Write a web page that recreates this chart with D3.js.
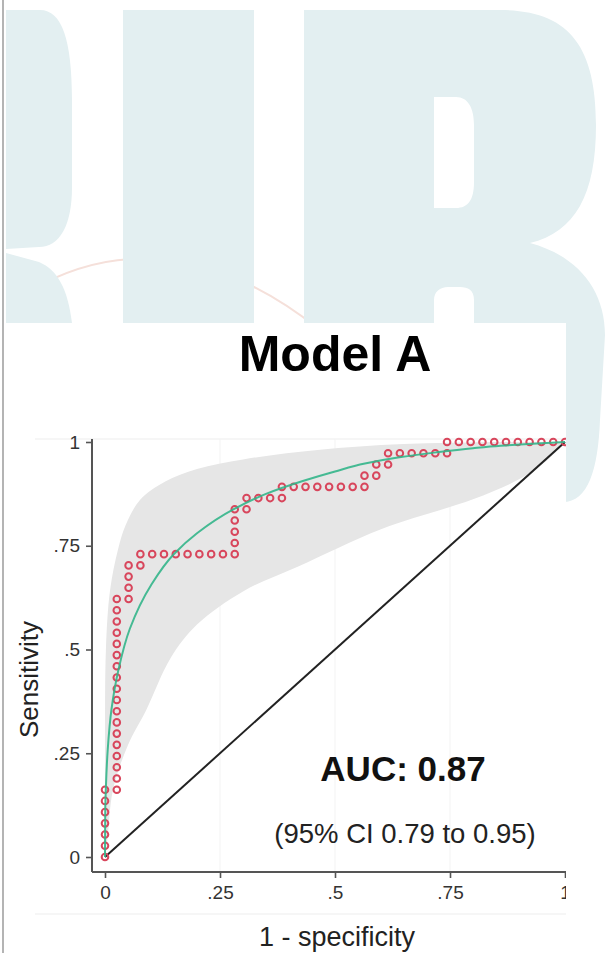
<!DOCTYPE html>
<html>
<head>
<meta charset="utf-8">
<script src="https://cdn.jsdelivr.net/npm/d3@7"></script>
<style>
  body { margin: 0; background: #fff; }
  svg { display: block; font-family: "Liberation Sans", Arial, sans-serif; }
</style>
</head>
<body>
<div id="chart"></div>
<script>
// values
var nNeg = 39, nPos = 37;

// empirical ROC markers, as counts of false / true positives
var rocFp = [0,0,0,0,0,0,0,
  1,1,1,1,1,1,1,1,1,1,1,1,1,1,1,1,1,1,
  2,2,2,2, 3,3,
  4,5,6,7,8,9,10,11, 11,11,11,11,
  12,12,13,14,15,
  15,16,17,18,19,20,21,22,
  22,23,23,24,
  24,25,26,27,28,29,
  29,30,31,32,33,34,35,36,37,38,39];
var rocTp = [0,1,2,3,4,5,6,
  6,7,8,9,10,11,12,13,14,15,16,17,18,19,20,21,22,23,
  23,24,25,26, 26,27,
  27,27,27,27,27,27,27,27, 28,29,30,31,
  31,32,32,32,32,
  33,33,33,33,33,33,33,33,
  34,34,35,35,
  36,36,36,36,36,36,
  37,37,37,37,37,37,37,37,37,37,37];

// fitted (smooth) ROC curve
var fitFpr = [0, 0.0005, 0.002, 0.006, 0.014, 0.029, 0.054, 0.1, 0.15, 0.2, 0.28, 0.35, 0.43, 0.5, 0.565, 0.64, 0.72, 0.8, 0.86, 0.93, 1];
var fitTpr = [0, 0.11, 0.17, 0.26, 0.355, 0.45, 0.55, 0.655, 0.73, 0.78, 0.838, 0.875, 0.906, 0.929, 0.948, 0.963, 0.975, 0.985, 0.991, 0.996, 1];

// confidence band
var ciUpFpr = [0, 0, 0.002, 0.011, 0.028, 0.045, 0.076, 0.13, 0.2, 0.3, 0.42, 0.6, 0.8, 1];
var ciUpTpr = [0, 0.25, 0.5, 0.643, 0.74, 0.80, 0.86, 0.904, 0.935, 0.958, 0.976, 0.993, 0.999, 1];
var ciLoFpr = [0, 0.006, 0.017, 0.05, 0.09, 0.143, 0.2, 0.3, 0.42, 0.6, 0.8, 0.9, 0.96, 1];
var ciLoTpr = [0, 0.05, 0.16, 0.27, 0.355, 0.48, 0.56, 0.64, 0.70, 0.79, 0.862, 0.91, 0.955, 1];

var tickVals = [0, 0.25, 0.5, 0.75, 1];
var tickLabels = ["0", ".25", ".5", ".75", "1"];

var w = 607, h = 953;

var svg = d3.select("#chart").append("svg")
    .attr("width", w)
    .attr("height", h)
    .style("background-color", "white");

// ---- watermark behind the figure
var wm = svg.append("g");
wm.append("path")
    .attr("d", "M40,285 Q175,215 320,330")
    .attr("fill", "none")
    .attr("stroke", "#f5e0da")
    .attr("stroke-width", 2);
var wmColor = "#e3eff1";
wm.append("path")
    .attr("fill", wmColor)
    .attr("d", "M6,10 L40,10 C62,10 72,40 72,100 L72,187 C72,225 60,247 39,247 L6,249 Z " +
               "M6,253 L39,262 C58,270 68,290 72,323 L6,323 Z");
wm.append("rect").attr("x", 123).attr("y", 10).attr("width", 131).attr("height", 313).attr("fill", wmColor);
wm.append("path")
    .attr("fill", wmColor)
    .attr("fill-rule", "evenodd")
    .attr("d", "M304,10 L500,10 C568,10 596,45 596,125 C596,195 575,232 530,243 " +
               "C578,256 605,290 605,335 L600,420 C598,470 588,502 563,502 L474,502 L474,300 " +
               "C474,290 468,287 460,287 L448,287 C440,287 434,292 434,300 L434,323 L304,323 Z " +
               "M434,97 L456,97 C468,97 474,108 474,125 L474,182 C474,200 468,208 456,208 L434,208 Z");

// ---- the figure itself (cropped picture of the chart)
svg.append("clipPath").attr("id", "fig")
  .append("rect").attr("x", 6).attr("y", 323).attr("width", 560).attr("height", 630);

var fig = svg.append("g").attr("clip-path", "url(#fig)");
fig.append("rect").attr("x", 6).attr("y", 323).attr("width", 560).attr("height", 630).attr("fill", "#fff");

// left border of the page
svg.append("line").attr("x1", 3).attr("x2", 3).attr("y1", 0).attr("y2", h)
    .attr("stroke", "#b4b4b4").attr("stroke-width", 2);

// faint edges of the chart image
fig.append("line").attr("x1", 35).attr("x2", 566).attr("y1", 439).attr("y2", 439).attr("stroke", "#ededed");
fig.append("line").attr("x1", 35).attr("x2", 566).attr("y1", 914).attr("y2", 914).attr("stroke", "#ededed");

var x = d3.scaleLinear().domain([0, 1]).range([105, 565]),
    y = d3.scaleLinear().domain([0, 1]).range([857, 442]);

var axisX = x(0) - 13,   // position of the y axis line
    axisY = y(0) + 15;   // position of the x axis line

// faint vertical grid
fig.selectAll(".grid")
    .data(tickVals.slice(1, 4))
    .enter().append("line")
    .attr("x1", function (d) { return x(d); })
    .attr("x2", function (d) { return x(d); })
    .attr("y1", y(1) - 3)
    .attr("y2", axisY)
    .attr("stroke", "#f3f3f3")
    .attr("stroke-width", 1);

// confidence band
var bandLine = d3.line()
    .x(function (d) { return x(d[0]); })
    .y(function (d) { return y(d[1]); })
    .curve(d3.curveCatmullRom.alpha(0.5));
var up = ciUpFpr.map(function (d, i) { return [d, ciUpTpr[i]]; });
var lo = ciLoFpr.map(function (d, i) { return [d, ciLoTpr[i]]; }).reverse();
fig.append("path")
    .attr("d", bandLine(up) + "L" + bandLine(lo).slice(1) + "Z")
    .attr("fill", "#e6e6e6");

// chance line
fig.append("line")
    .attr("x1", x(0)).attr("y1", y(0))
    .attr("x2", x(1)).attr("y2", y(1))
    .attr("stroke", "#222")
    .attr("stroke-width", 2);

// empirical ROC markers
fig.selectAll(".pt")
    .data(rocFp)
    .enter().append("circle")
    .attr("class", "pt")
    .attr("cx", function (d) { return x(d / nNeg); })
    .attr("cy", function (d, i) { return y(rocTp[i] / nPos); })
    .attr("r", 3.3)
    .attr("fill", "none")
    .attr("stroke", "#d8465c")
    .attr("stroke-width", 2);

// fitted curve
var fitLine = d3.line()
    .x(function (d) { return x(d[0]); })
    .y(function (d) { return y(d[1]); })
    .curve(d3.curveMonotoneY);
fig.append("path")
    .datum(fitFpr.map(function (d, i) { return [d, fitTpr[i]]; }))
    .attr("d", fitLine)
    .attr("fill", "none")
    .attr("stroke", "#33b58a")
    .attr("stroke-opacity", 0.9)
    .attr("stroke-width", 2);

// axes
var yAxis = d3.axisLeft(y)
    .tickValues(tickVals)
    .tickFormat(function (d, i) { return tickLabels[i]; })
    .tickSize(6)
    .tickPadding(6);
var xAxis = d3.axisBottom(x)
    .tickValues(tickVals)
    .tickFormat(function (d, i) { return tickLabels[i]; })
    .tickSize(6)
    .tickPadding(8);

var gy = fig.append("g").attr("transform", "translate(" + axisX + ",0)").call(yAxis);
var gx = fig.append("g").attr("transform", "translate(0," + axisY + ")").call(xAxis);
[gy, gx].forEach(function (g) {
    g.select(".domain").remove();
    g.selectAll("line").attr("stroke", "#555").attr("stroke-width", 1.6);
    g.selectAll("text")
        .attr("fill", "#333")
        .style("font-family", "'Liberation Sans', Arial, sans-serif")
        .style("font-size", "19px");
});
fig.append("line").attr("x1", axisX).attr("x2", axisX).attr("y1", y(1) - 3).attr("y2", axisY)
    .attr("stroke", "#555").attr("stroke-width", 2);
fig.append("line").attr("x1", axisX).attr("x2", x(1) + 5).attr("y1", axisY).attr("y2", axisY)
    .attr("stroke", "#555").attr("stroke-width", 2);

// axis titles
fig.append("text")
    .attr("transform", "translate(38," + (y(0.5) + 30) + ") rotate(-90)")
    .attr("text-anchor", "middle")
    .attr("fill", "#222")
    .style("font-size", "26px")
    .text("Sensitivity");
fig.append("text")
    .attr("x", 337).attr("y", 946)
    .attr("text-anchor", "middle")
    .attr("fill", "#222")
    .style("font-size", "27px")
    .text("1 - specificity");

// title and annotations
fig.append("text")
    .attr("x", 335).attr("y", 371)
    .attr("text-anchor", "middle")
    .attr("fill", "#000")
    .style("font-size", "50px")
    .style("font-weight", "bold")
    .text("Model A");
fig.append("text")
    .attr("x", 403).attr("y", 781)
    .attr("text-anchor", "middle")
    .attr("fill", "#111")
    .style("font-size", "35px")
    .style("font-weight", "bold")
    .text("AUC: 0.87");
fig.append("text")
    .attr("x", 405).attr("y", 843)
    .attr("text-anchor", "middle")
    .attr("fill", "#222")
    .style("font-size", "27.5px")
    .text("(95% CI 0.79 to 0.95)");
</script>
</body>
</html>
